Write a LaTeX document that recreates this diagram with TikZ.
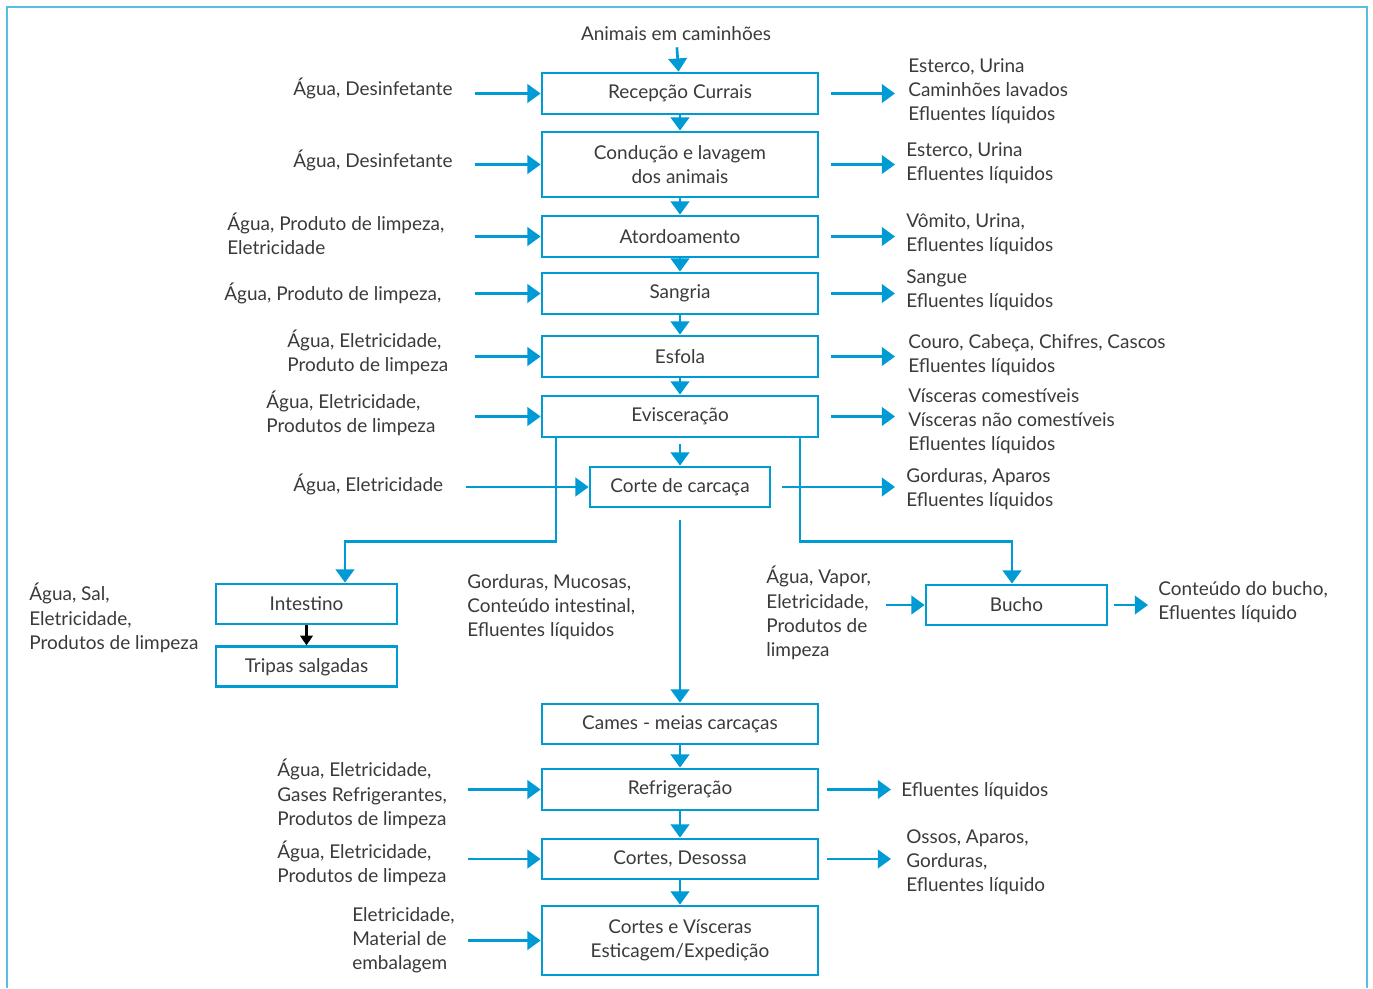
\documentclass[tikz,border=0pt]{standalone}
\usepackage{fontspec}
\setmainfont{Lato}
\usetikzlibrary{arrows.meta,positioning}
\definecolor{boxblue}{HTML}{009BD4}
\definecolor{frameblue}{HTML}{5BBDE4}
\definecolor{txtgrey}{HTML}{3A3A3A}
\tikzstyle{stage}=[draw=boxblue, line width=1.6pt, minimum width=5.52cm, minimum height=0.82cm, align=center, inner sep=2pt]
\tikzstyle{side stage}=[stage, minimum width=3.62cm, minimum height=0.8cm]
\tikzstyle{flow}=[draw=boxblue, line width=1.5pt, -{Triangle[length=7.5pt,width=10.5pt]}]
\tikzstyle{post}=[draw=black, line width=1.3pt, -{Triangle[length=5.5pt,width=7pt]}]
\tikzstyle{note}=[anchor=west, align=left, inner sep=0pt]

\begin{document}
\begin{tikzpicture}[x=0.02cm, y=-0.02cm, font=\fontsize{10.8pt}{13.8pt}\selectfont, text=txtgrey]
    \useasboundingbox (0,0) rectangle (1373,988);
    \draw[frameblue, line width=1.1pt] (7,988) -- (7,7) -- (1367,7) -- (1367,988);

    % main line
    \node (animais) at (676,34) {Animais em caminhões};
    \node (recepcao) [stage] at (680,93.5) {Recepção Currais};
    \node (conducao) [stage, minimum height=1.3cm] at (680,164.5) {Condução e lavagem\\dos animais};
    \node (atord) [stage] at (680,236.5) {Atordoamento};
    \node (sangria) [stage] at (680,293.5) {Sangria};
    \node (esfola) [stage] at (680,356.5) {Esfola};
    \node (evisc) [stage] at (680,416.5) {Evisceração};
    \node (corte) [side stage, minimum width=3.6cm] at (680,487) {Corte de carcaça};
    \node (intestino) [side stage] at (306.5,604) {Intestino};
    \node (tripas) [side stage] [below=0.4cm of intestino] {Tripas salgadas};
    \node (bucho) [side stage] at (1016.5,605) {Bucho};
    \node (cames) [stage, minimum height=0.8cm] at (680,724) {Cames - meias carcaças};
    \node (refrig) [stage] at (680,789.5) {Refrigeração};
    \node (cortes) [stage, minimum height=0.8cm] at (680,859) {Cortes, Desossa};
    \node (exped) [stage, minimum height=1.38cm] at (680,940.5) {Cortes e Vísceras\\Esticagem/Expedição};

    % inputs
    \node (in1) [note] at (293,88) {Água, Desinfetante};
    \node (in2) [note] at (293,160) {Água, Desinfetante};
    \node (in3) [note] at (227,234) {Água, Produto de limpeza,\\Eletricidade};
    \node (in4) [note] at (224,293) {Água, Produto de limpeza,};
    \node (in5) [note] at (287,352) {Água, Eletricidade,\\Produto de limpeza};
    \node (in6) [note] at (266,413) {Água, Eletricidade,\\Produtos de limpeza};
    \node (in7) [note] at (293,484) {Água, Eletricidade};
    \node (in8) [note] at (29,618) {Água, Sal,\\Eletricidade,\\Produtos de limpeza};
    \node (in9) [note] at (766,613) {Água, Vapor,\\Eletricidade,\\Produtos de\\limpeza};
    \node (in10) [note] at (277,794) {Água, Eletricidade,\\Gases Refrigerantes,\\Produtos de limpeza};
    \node (in11) [note] at (277,863) {Água, Eletricidade,\\Produtos de limpeza};
    \node (in12) [note] at (352,940) {Eletricidade,\\Material de\\embalagem};

    % outputs
    \node (out1) [note] at (908,91) {Esterco, Urina\\Caminhões lavados\\Efluentes líquidos};
    \node (out2) [note] at (906,163.5) {Esterco, Urina\\Efluentes líquidos};
    \node (out3) [note] at (906,234) {Vômito, Urina,\\Efluentes líquidos};
    \node (out4) [note] at (906,290) {Sangue\\Efluentes líquidos};
    \node (out5) [note] at (908,355) {Couro, Cabeça, Chifres, Cascos\\Efluentes líquidos};
    \node (out6) [note] at (908,421) {Vísceras comestíveis\\Vísceras não comestíveis\\Efluentes líquidos};
    \node (out7) [note] at (906,489) {Gorduras, Aparos\\Efluentes líquidos};
    \node (out8) [note] at (467,607) {Gorduras, Mucosas,\\Conteúdo intestinal,\\Efluentes líquidos};
    \node (out9) [note] at (1158,602) {Conteúdo do bucho,\\Efluentes líquido};
    \node (out10) [note] at (901,791) {Efluentes líquidos};
    \node (out11) [note] at (906,862) {Ossos, Aparos,\\Gorduras,\\Efluentes líquido};

    % flow down
    \draw[flow] (animais) -- (recepcao);
    \draw[flow] (recepcao) -- (conducao);
    \draw[flow] (conducao) -- (atord);
    \draw[flow] (atord) -- (sangria);
    \draw[flow] (sangria) -- (esfola);
    \draw[flow] (esfola) -- (evisc);
    \draw[flow] ([yshift=-0.12cm]evisc.south) -- (corte);
    \draw[flow, shorten <=0.24cm] (corte) -- (cames);
    \draw[flow] (cames) -- (refrig);
    \draw[flow] (refrig) -- (cortes);
    \draw[flow] (cortes) -- (exped);
    \draw[flow] ([xshift=-2.48cm]evisc.south) -- ++(0,103) -| ([xshift=0.77cm]intestino.north);
    \draw[flow] ([xshift=2.4cm]evisc.south) -- ++(0,103) -| ([xshift=-0.09cm]bucho.north);
    \draw[post] (intestino) -- (tripas);

    % inputs in
    \draw[flow] ([xshift=-1.32cm]recepcao.west) -- (recepcao.west);
    \draw[flow] ([xshift=-1.32cm]conducao.west) -- (conducao.west);
    \draw[flow] ([xshift=-1.32cm]atord.west) -- (atord.west);
    \draw[flow] ([xshift=-1.32cm]sangria.west) -- (sangria.west);
    \draw[flow] ([xshift=-1.32cm]esfola.west) -- (esfola.west);
    \draw[flow] ([xshift=-1.32cm]evisc.west) -- (evisc.west);
    \draw[flow] ([xshift=-2.46cm]corte.west) -- (corte.west);
    \draw[flow] ([xshift=-0.78cm]bucho.west) -- (bucho.west);
    \draw[flow] ([xshift=-1.46cm]refrig.west) -- (refrig.west);
    \draw[flow] ([xshift=-1.46cm]cortes.west) -- (cortes.west);
    \draw[flow] ([xshift=-1.46cm]exped.west) -- (exped.west);

    % outputs out
    \draw[flow] ([xshift=0.24cm]recepcao.east) -- ([xshift=-0.26cm]out1.west |- recepcao.east);
    \draw[flow] ([xshift=0.24cm]conducao.east) -- ([xshift=-0.22cm]out2.west |- conducao.east);
    \draw[flow] ([xshift=0.24cm]atord.east) -- ([xshift=-0.22cm]out3.west |- atord.east);
    \draw[flow] ([xshift=0.24cm]sangria.east) -- ([xshift=-0.22cm]out4.west |- sangria.east);
    \draw[flow] ([xshift=0.24cm]esfola.east) -- ([xshift=-0.26cm]out5.west |- esfola.east);
    \draw[flow] ([xshift=0.24cm]evisc.east) -- ([xshift=-0.26cm]out6.west |- evisc.east);
    \draw[flow] ([xshift=0.22cm]corte.east) -- ([xshift=-0.22cm]out7.west |- corte.east);
    \draw[flow] ([xshift=0.12cm]bucho.east) -- ([xshift=-0.2cm]out9.west |- bucho.east);
    \draw[flow] ([xshift=0.16cm]refrig.east) -- ([xshift=-0.2cm]out10.west |- refrig.east);
    \draw[flow] ([xshift=0.16cm]cortes.east) -- ([xshift=-0.3cm]out11.west |- cortes.east);
\end{tikzpicture}
\end{document}
